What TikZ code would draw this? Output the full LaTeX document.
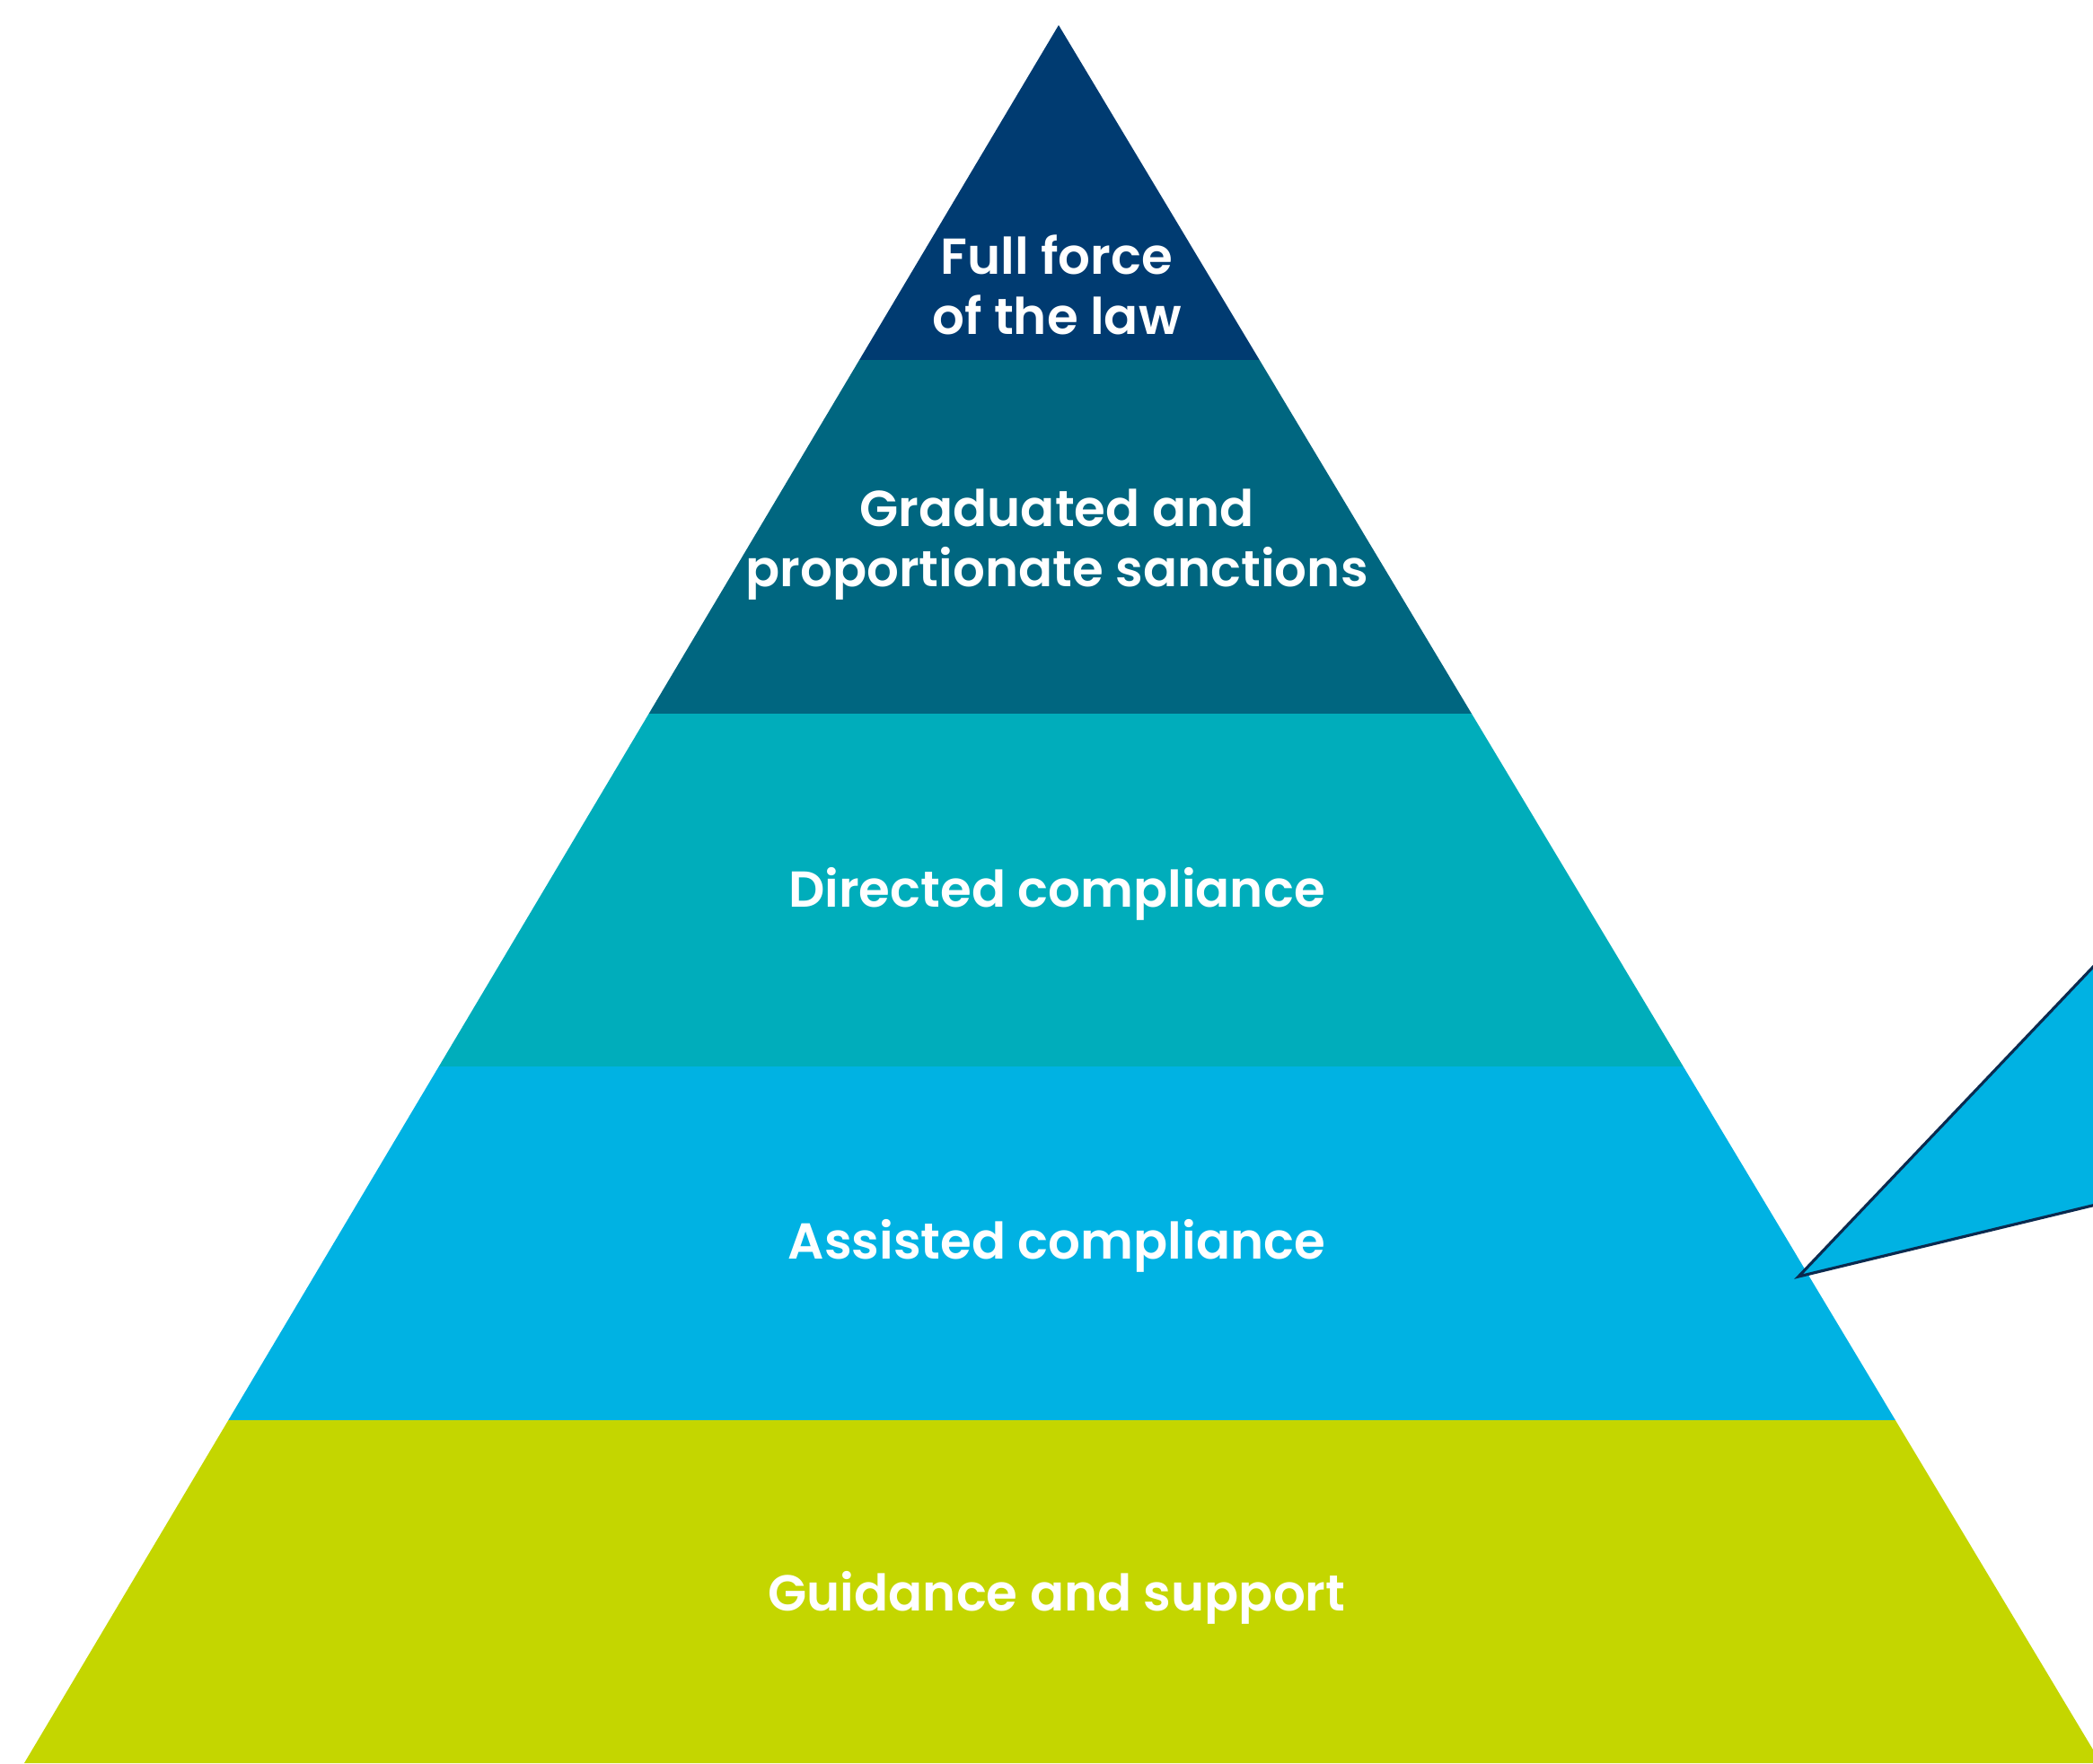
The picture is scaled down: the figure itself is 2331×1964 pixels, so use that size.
\documentclass[tikz,border=0pt]{standalone}
\usepackage{fontspec}
\setmainfont{Poppins}[BoldFont={Poppins SemiBold}]
\usetikzlibrary{calc}
\definecolor{bandA}{HTML}{003B71}
\definecolor{bandB}{HTML}{006680}
\definecolor{bandC}{HTML}{00ADBB}
\definecolor{bandD}{HTML}{00B2E3}
\definecolor{bandE}{HTML}{C4D600}
\definecolor{outline}{HTML}{0A2A4F}
\tikzset{
  label/.style={text=white, align=center, font=\bfseries\fontsize{16}{19}\selectfont, inner sep=0pt},
  callout/.style={fill=bandD, draw=outline, line width=0.9pt, line join=miter}
}
\begin{document}
\begin{tikzpicture}[x=0.01cm,y=-0.01cm]
\useasboundingbox (0,0) rectangle (2331,1964);
\clip (0,0) rectangle (2331,1964);
\coordinate (apex) at (1179,28);
\coordinate (bl) at (27,1964);
\coordinate (br) at (2340,1964);
\foreach \t/\n in {0.1927/1,0.3962/2,0.5992/3,0.8027/4}{
  \coordinate (l\n) at ($(apex)!\t!(bl)$);
  \coordinate (r\n) at ($(apex)!\t!(br)$);
}
\fill[bandA] (apex) -- (r1) -- (l1) -- cycle;
\fill[bandB] (l1) -- (r1) -- (r2) -- (l2) -- cycle;
\fill[bandC] (l2) -- (r2) -- (r3) -- (l3) -- cycle;
\fill[bandD] (l3) -- (r3) -- (r4) -- (l4) -- cycle;
\fill[bandE] (l4) -- (r4) -- (br) -- (bl) -- cycle;
\node[label] (t1) at (1177,317) {Full force\\of the law};
\node[label] (t2) at (1177,607) {Graduated and\\proportionate sanctions};
\node[label] (t3) at (1177,996) {Directed compliance};
\node[label] (t4) at (1177,1388) {Assisted compliance};
\node[label] (t5) at (1177,1780) {Guidance and support};
\coordinate (tip) at (2003,1422);
\coordinate (cu) at (2450,952);
\coordinate (cl) at (2450,1314);
\draw[callout] (tip) -- (cu) -- (cl) -- cycle;
\end{tikzpicture}
\end{document}
